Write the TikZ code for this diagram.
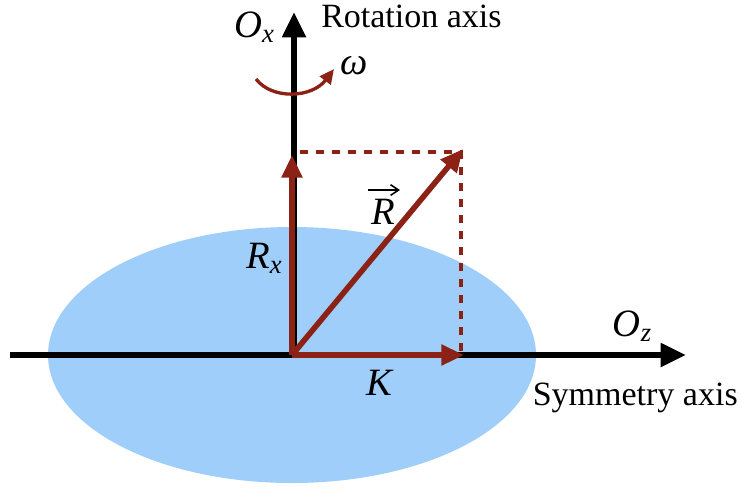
\documentclass[tikz,border=0pt]{standalone}
\usepackage{fontspec}
\setmainfont{Liberation Serif}
\usetikzlibrary{arrows.meta}
\definecolor{vred}{RGB}{140,34,22}
\definecolor{ellblue}{RGB}{160,206,250}
\newcommand{\subx}[1]{\raisebox{-0.3ex}{\fontsize{20}{22}\selectfont\textit{#1}}}
\tikzset{
  axis/.style={line width=4.5pt,-{Triangle[length=19pt,width=17pt]}},
  vec/.style={vred,line width=4.2pt,-{Triangle[length=17pt,width=15pt]}},
  proj/.style={vred,line width=3.2pt,dash pattern=on 6pt off 6pt},
  lbl/.style={font=\fontsize{25.5}{30}\selectfont,inner sep=0pt},
  mlbl/.style={font=\fontsize{29}{32}\selectfont\itshape,inner sep=0pt},
}
\begin{document}
\begin{tikzpicture}[x=0.75pt,y=-0.75pt]
\useasboundingbox (0,0) rectangle (742,490);
\fill[ellblue] (292,355) ellipse [x radius=244, y radius=128];
\coordinate (L) at (10,355);
\coordinate (Zt) at (686,355);
\coordinate (O) at (294,355);
\coordinate (Xt) at (294,12);
\draw[axis] (L) -- (Zt);
\draw[axis] (O) -- (Xt);
\coordinate (P) at (292,355);
\coordinate (Rx) at (292,155);
\coordinate (K) at (464,355);
\coordinate (R) at (463,149);
\coordinate (D1) at (300,152);
\coordinate (D2) at (461,152);
\coordinate (D3) at (461,358);
\draw[proj] (D1) -- (D2) -- (D3);
\draw[vec] (P) -- (Rx);
\draw[vec] (P) -- (K);
\draw[vec] (P) -- (R);
\coordinate (w1) at (256,79);
\coordinate (w2) at (334,69);
\draw[vred,line width=2.5pt,-{Triangle[length=11pt,width=10pt]}] (w1) .. controls (272,100) and (312,98) .. (w2);
\node[mlbl] (ox) at (254,27) {O\subx{x}};
\node[lbl,anchor=west] (rot) at (321,16) {Rotation axis};
\node[mlbl] (om) at (354,66) {ω};
\node[mlbl] (rvec) at (383,212) {R};
\coordinate (va) at (368,190);
\coordinate (vb) at (400,190);
\draw[line width=1.2pt,-{Straight Barb[length=6pt,width=8pt]}] (va) -- (vb);
\node[mlbl] (rxl) at (264,258) {R\subx{x}};
\node[mlbl] (kl) at (379,383) {K};
\node[mlbl] (oz) at (632,326) {O\subx{z}};
\node[lbl,anchor=east] (sym) at (738,398) {Symmetry axis};
\end{tikzpicture}
\end{document}
